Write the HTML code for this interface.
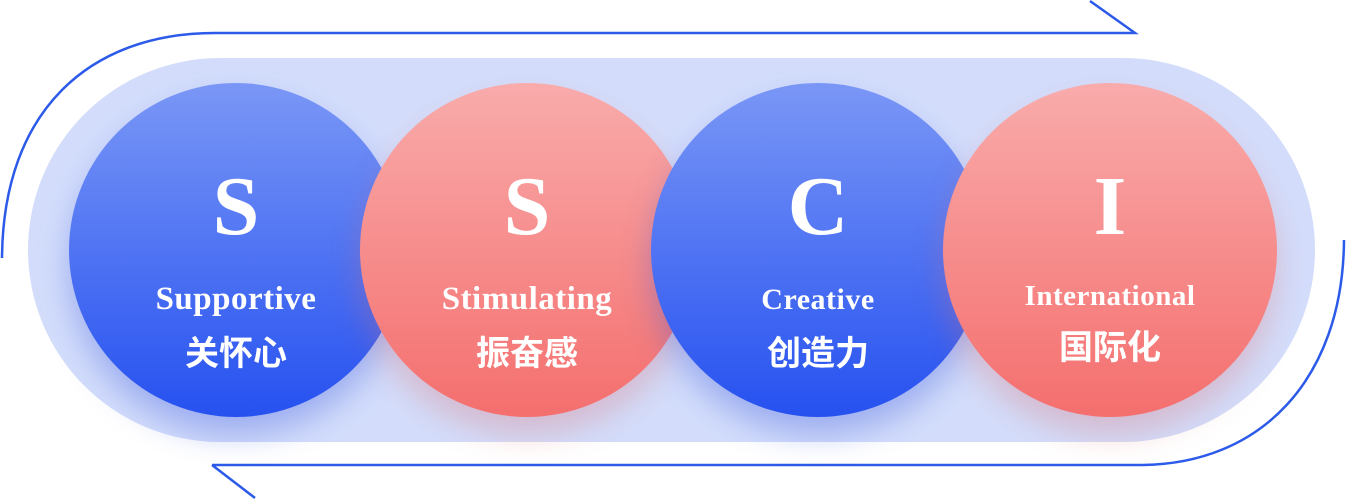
<!DOCTYPE html>
<html><head><meta charset="utf-8"><style>
body{margin:0;width:1346px;height:500px;background:#fff;position:relative;overflow:hidden}
.pill{position:absolute;left:28px;top:58px;width:1287px;height:384px;border-radius:192px;background:#d3ddfb}
.c{position:absolute;top:83px;width:334px;height:334px;border-radius:50%;color:#fff;text-align:center;box-shadow:0 18px 30px rgba(60,90,220,0.35)}
.b{background:linear-gradient(#7a97f6,#2651f0)}
.r{background:linear-gradient(#f9abab,#f46f6e);box-shadow:0 18px 30px rgba(220,110,110,0.3)}
.L{position:absolute;left:0;right:0;top:82px;font:bold 84px "Liberation Serif",serif;line-height:1}
.E{position:absolute;left:0;right:0;top:200px;font:bold 33px "Liberation Serif",serif;line-height:1;letter-spacing:0.5px}
.Z{position:absolute;left:0;right:0;top:254px;font:bold 34px "Liberation Sans","Noto Sans CJK SC",sans-serif;line-height:1}
</style></head><body>
<svg width="1346" height="500" style="position:absolute;left:0;top:0">
<path d="M1090 1 L1135 33 L215 33 C90 33 3 110 2 258" fill="none" stroke="#2c5ae9" stroke-width="2.5"/>
<path d="M212 465 L255 498 M212 465 L1140 465 C1260 465 1343 380 1344 240" fill="none" stroke="#2c5ae9" stroke-width="2.5"/>
</svg>
<div class="pill"></div>
<div class="c b" style="left:69px"><div class="L">S</div><div class="E">Supportive</div><div class="Z">关怀心</div></div>
<div class="c r" style="left:360px"><div class="L">S</div><div class="E">Stimulating</div><div class="Z">振奋感</div></div>
<div class="c b" style="left:651px"><div class="L">C</div><div class="E" style="font-size:30px;top:202px">Creative</div><div class="Z">创造力</div></div>
<div class="c r" style="left:943px"><div class="L">I</div><div class="E" style="top:199px;font-size:29px">International</div><div class="Z" style="top:248px">国际化</div></div>
</body></html>
